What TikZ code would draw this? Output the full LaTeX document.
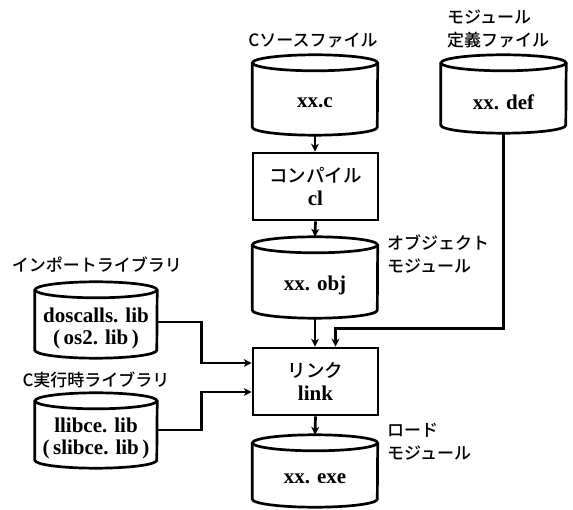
\documentclass[tikz,border=0pt]{standalone}
\usepackage{fontspec}
\setmainfont{Liberation Serif}
\newfontfamily\jpfont{Noto Sans CJK JP}[UprightFont=* Medium]
\newfontfamily\jplab{Noto Sans CJK JP}[UprightFont=* Medium]
\usetikzlibrary{arrows.meta}
\tikzset{
  ln/.style={line width=2.7pt},
  conn/.style={line width=2.7pt,-{Stealth[length=8pt,width=8pt,inset=2.5pt]}},
  body/.style={inner sep=0pt, minimum width=125pt, align=center,
    font=\fontsize{21}{22}\selectfont\bfseries},
  procbox/.style={draw, line width=2.7pt, minimum width=125pt, minimum height=67pt,
    inner sep=0pt, align=center, font=\fontsize{21}{23}\selectfont\bfseries},
  lab/.style={inner sep=0pt, font=\jplab\fontsize{17}{23}\selectfont, align=left},
}
\newcommand\jpbox[1]{{\jpfont\mdseries\fontsize{18.5}{23}\selectfont #1}}
\newcommand\drawcyl[2]{%
  \draw[ln] ([yshift=8pt]#1.north) ellipse [x radius=#2, y radius=8pt];
  \draw[ln] ([yshift=8pt]#1.north west) -- ([yshift=8pt]#1.south west)
    arc[start angle=180, end angle=360, x radius=#2, y radius=8pt]
    -- ([yshift=8pt]#1.north east);}
\begin{document}
\begin{tikzpicture}[x=1pt,y=-1pt]
\useasboundingbox (0,0) rectangle (573,510);
% cylinders
\node[body, minimum height=64pt] (xxc) at (315,103) {xx.c};
\node[body, minimum height=62pt] (def) at (503.5,102) {xx. def};
\node[body, minimum height=65pt] (obj) at (315,285.5) {xx. obj};
\node[body, minimum height=56pt] (exe) at (315,479) {xx. exe};
\node[body, minimum width=122pt, minimum height=60pt] (dos) at (96,328)
  {doscalls. lib\\(\,os2. lib\,)};
\node[body, minimum width=122pt, minimum height=59pt] (llib) at (96,438.5)
  {llibce. lib\\(\,slibce. lib\,)};
\drawcyl{xxc}{62.5pt}
\drawcyl{def}{62.5pt}
\drawcyl{obj}{62.5pt}
\drawcyl{exe}{62.5pt}
\drawcyl{dos}{61pt}
\drawcyl{llib}{61pt}
% process boxes
\node[procbox] (compile) at (315.5,186.5) {\jpbox{コンパイル}\\cl};
\node[procbox] (link) at (315.5,381.5) {\jpbox{リンク}\\link};
% labels
\node[lab] (lsrc) at (313,40) {Cソースファイル};
\node[lab, anchor=west] (ldef) at (447,28.5) {モジュール\\定義ファイル};
\node[lab, anchor=west] (lobj) at (387,254) {オブジェクト\\モジュール};
\node[lab, anchor=west] (lexe) at (387,441.5) {ロード\\モジュール};
\node[lab] (limp) at (97,265) {インポートライブラリ};
\node[lab] (lcrt) at (96,380) {C実行時ライブラリ};
% connectors
\draw[conn] (xxc.south) -- (xxc.south |- compile.north);
\draw[conn] (compile.south) -- ([yshift=16pt]obj.north);
\draw[conn] (obj.south) -- (obj.south |- link.north);
\draw[conn] (def.south) |- ([xshift=20pt,yshift=18pt]link.north) -- ([xshift=20pt]link.north);
\draw[conn] (link.south) -- ([yshift=16pt]exe.north);
\draw[conn] ([yshift=6pt]dos.east) -| ([xshift=-50pt,yshift=18.5pt]link.west) -- ([yshift=18.5pt]link.west);
\draw[conn] ([yshift=8.5pt]llib.east) -| ([xshift=-50pt,yshift=-10.5pt]link.west) -- ([yshift=-10.5pt]link.west);
\end{tikzpicture}
\end{document}
